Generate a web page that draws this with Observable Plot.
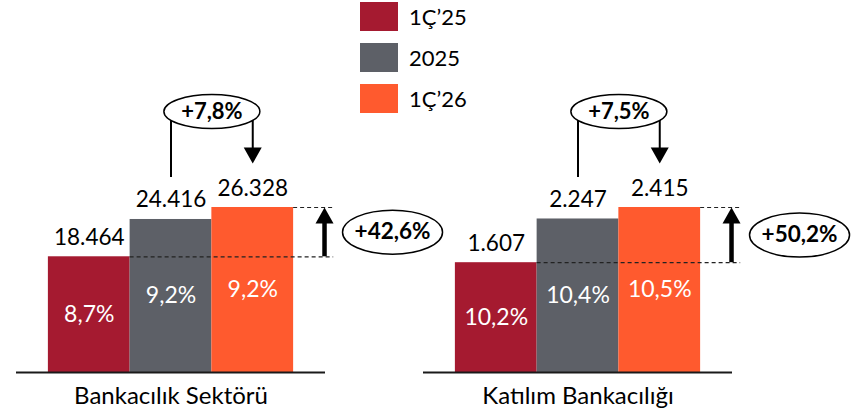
<!DOCTYPE html>
<html>
<head>
<meta charset="utf-8">
<script src="https://cdn.jsdelivr.net/npm/d3@7"></script>
<script src="https://cdn.jsdelivr.net/npm/@observablehq/plot@0.6"></script>
<style>
  html, body { margin: 0; padding: 0; background: #fff; }
  #wrap { position: relative; width: 853px; height: 413px; font-family: Lato, "Open Sans", sans-serif; }
  #legend { position: absolute; left: 360px; top: 2px; }
  .row { display: flex; align-items: center; height: 29px; margin-bottom: 12px; }
  .sw { width: 38px; height: 29px; margin-right: 11px; }
  .lb { font-size: 22px; color: #000; }
</style>
</head>
<body>
<div id="wrap"><div id="chart"></div><div id="legend"></div></div>
<script>
// ---- data ----
const groups = ["Bankacılık Sektörü", "Katılım Bankacılığı"];
const periods = ["1Ç’25", "2025", "1Ç’26"];
const colors = ["#A51A30", "#5D6067", "#FF5A2E"];
const bankingValues = [18464, 24416, 26328];
const participationValues = [1607, 2247, 2415];
const bankingShares = ["8,7%", "9,2%", "9,2%"];
const participationShares = ["10,2%", "10,4%", "10,5%"];
const quarterGrowth = ["+7,8%", "+7,5%"];   // 2025 -> 1Ç'26
const yearGrowth = ["+42,6%", "+50,2%"];    // 1Ç'25 -> 1Ç'26

// ---- derived table (each group scaled to its own maximum) ----
const valuesByGroup = [bankingValues, participationValues];
const sharesByGroup = [bankingShares, participationShares];
const rows = [];
groups.forEach((g, gi) => {
  const vals = valuesByGroup[gi];
  const max = d3.max(vals);
  vals.forEach((v, i) => rows.push({
    group: g, period: periods[i], i, value: v, h: v / max, share: sharesByGroup[gi][i]
  }));
});
const annot = groups.map((g, gi) => {
  const vals = valuesByGroup[gi];
  const max = d3.max(vals);
  return { group: g, q: quarterGrowth[gi], yg: yearGrowth[gi], low: vals[0] / max, high: vals[2] / max };
});

const fmt = d3.formatLocale({decimal: ",", thousands: ".", grouping: [3], currency: ["", ""]}).format(",");

// ---- annotation layout (in y units of the group maximum) ----
const L = { ellipse: 1.582, foot: 1.182, tip: 1.267, side: 3.71, arrowX: 2.878, dashEnd: 2.99 };

function ellipseSymbol(rx, ry) {
  const k = 0.5522847498;
  return { draw(ctx) {
    const kx = rx * k, ky = ry * k;
    ctx.moveTo(-rx, 0);
    ctx.bezierCurveTo(-rx, -ky, -kx, -ry, 0, -ry);
    ctx.bezierCurveTo(kx, -ry, rx, -ky, rx, 0);
    ctx.bezierCurveTo(rx, ky, kx, ry, 0, ry);
    ctx.bezierCurveTo(-kx, ry, -rx, ky, -rx, 0);
    ctx.closePath();
  }};
}
const headDown = { draw(ctx) { ctx.moveTo(0, 0); ctx.lineTo(-9, -16); ctx.lineTo(9, -16); ctx.closePath(); } };
const headUp = { draw(ctx) { ctx.moveTo(0, 0); ctx.lineTo(-9, 16); ctx.lineTo(9, 16); ctx.closePath(); } };

const chart = Plot.plot({
  width: 853,
  height: 413,
  marginTop: 207,
  marginBottom: 41,
  marginLeft: 15,
  marginRight: 120,
  style: { fontFamily: "Lato, 'Open Sans', sans-serif", fontSize: "24px", color: "#000", background: "transparent" },
  fx: { domain: groups, paddingInner: 0.24, paddingOuter: 0, axis: "bottom", tickSize: 0, tickPadding: 14, label: null },
  x: { domain: [-0.89, 2.89], axis: null },
  y: { domain: [0, 1], range: [372, 207], axis: null },
  color: { domain: periods, range: colors },
  marks: [
    Plot.rectY(rows, { fx: "group", x1: d => d.i - 0.5, x2: d => d.i + 0.5, y: "h", fill: "period" }),
    Plot.ruleY([0], { stroke: "#1a1a1a", strokeWidth: 2 }),
    // dashed guides
    Plot.ruleY(annot, { fx: "group", y: "high", x1: () => 2.5, x2: () => L.dashEnd, stroke: "#222", strokeWidth: 1.2, strokeDasharray: "4,3" }),
    Plot.ruleY(annot, { fx: "group", y: "low", x1: () => 0.5, x2: () => L.dashEnd, stroke: "#222", strokeWidth: 1.2, strokeDasharray: "4,3" }),
    // up arrow
    Plot.ruleX(annot, { fx: "group", x: () => L.arrowX, y1: "low", y2: d => d.high - 0.07, stroke: "#000", strokeWidth: 4.5 }),
    Plot.dot(annot, { fx: "group", x: () => L.arrowX, y: "high", symbol: headUp, r: 5, fill: "#000", stroke: "none" }),
    // yearly growth ellipse
    Plot.dot(annot, { fx: "group", x: () => L.side, y: d => (d.low + d.high) / 2, symbol: ellipseSymbol(50, 22), r: 5, fill: "white", stroke: "#000", strokeWidth: 1.5 }),
    Plot.text(annot, { fx: "group", x: () => L.side, y: d => (d.low + d.high) / 2, text: "yg", fontSize: 22.5, fontWeight: "bold", fill: "#000" }),
    // quarterly connector
    Plot.ruleX(annot, { fx: "group", x: () => 1, y1: () => L.foot, y2: () => L.ellipse, stroke: "#000", strokeWidth: 2 }),
    Plot.ruleX(annot, { fx: "group", x: () => 2, y1: () => L.tip + 0.06, y2: () => L.ellipse, stroke: "#000", strokeWidth: 2 }),
    Plot.dot(annot, { fx: "group", x: () => 2, y: () => L.tip, symbol: headDown, r: 5, fill: "#000", stroke: "none" }),
    Plot.dot(annot, { fx: "group", x: () => 1.5, y: () => L.ellipse, symbol: ellipseSymbol(48, 17), r: 5, fill: "white", stroke: "#000", strokeWidth: 1.5 }),
    Plot.text(annot, { fx: "group", x: () => 1.5, y: () => L.ellipse, text: "q", fontSize: 22, fontWeight: "bold", fill: "#000" }),
    // value labels
    Plot.text(rows, { fx: "group", x: "i", y: "h", text: d => fmt(d.value), lineAnchor: "bottom", dy: -12, fontSize: 22.5, fill: "#000" }),
    Plot.text(rows, { fx: "group", x: "i", y: d => d.h / 2, text: "share", fontSize: 23, fill: "#fff" })
  ]
});
document.getElementById("chart").appendChild(chart);

// legend
const legend = d3.select("#legend");
periods.forEach((p, i) => {
  const r = legend.append("div").attr("class", "row");
  r.append("div").attr("class", "sw").style("background", colors[i]);
  r.append("div").attr("class", "lb").text(p);
});
</script>
</body>
</html>
